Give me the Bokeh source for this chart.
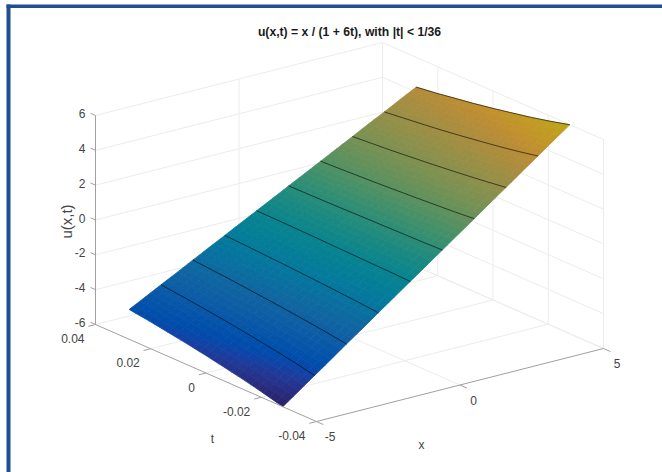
from bokeh.plotting import figure
from bokeh.models import Range1d
from bokeh.core.properties import value
from bokeh.embed import file_html
from bokeh.resources import INLINE
import numpy as np

# ---- chart values ----
title = "u(x,t) = x / (1 + 6t), with |t| < 1/36"
x_ticks = [-5, 0, 5]
t_ticks = [0.04, 0.02, 0, -0.02, -0.04]
t_tick_labels = ["0.04", "0.02", "0", "-0.02", "-0.04"]
z_ticks = [6, 4, 2, 0, -2, -4, -6]
x_grid = [-5, -4.44, -3.89, -3.33, -2.78, -2.22, -1.67, -1.11, -0.56, 0,
          0.56, 1.11, 1.67, 2.22, 2.78, 3.33, 3.89, 4.44, 5]
t_grid = [-0.0278, -0.0208, -0.0139, -0.0069, 0, 0.0069, 0.0139, 0.0208, 0.0278]
u_5 = [6.00, 5.71, 5.45, 5.22, 5.00, 4.80, 4.62, 4.44, 4.29]
u_444 = [5.33, 5.08, 4.85, 4.64, 4.44, 4.27, 4.10, 3.95, 3.81]
u_389 = [4.67, 4.44, 4.24, 4.06, 3.89, 3.73, 3.59, 3.46, 3.33]
u_333 = [4.00, 3.81, 3.64, 3.48, 3.33, 3.20, 3.08, 2.96, 2.86]
u_278 = [3.33, 3.17, 3.03, 2.90, 2.78, 2.67, 2.56, 2.47, 2.38]
u_222 = [2.67, 2.54, 2.42, 2.32, 2.22, 2.13, 2.05, 1.98, 1.90]
u_167 = [2.00, 1.90, 1.82, 1.74, 1.67, 1.60, 1.54, 1.48, 1.43]
u_111 = [1.33, 1.27, 1.21, 1.16, 1.11, 1.07, 1.03, 0.99, 0.95]
u_056 = [0.67, 0.63, 0.61, 0.58, 0.56, 0.53, 0.51, 0.49, 0.48]
u_0 = [0, 0, 0, 0, 0, 0, 0, 0, 0]
u_m056 = [-0.67, -0.63, -0.61, -0.58, -0.56, -0.53, -0.51, -0.49, -0.48]
u_m111 = [-1.33, -1.27, -1.21, -1.16, -1.11, -1.07, -1.03, -0.99, -0.95]
u_m167 = [-2.00, -1.90, -1.82, -1.74, -1.67, -1.60, -1.54, -1.48, -1.43]
u_m222 = [-2.67, -2.54, -2.42, -2.32, -2.22, -2.13, -2.05, -1.98, -1.90]
u_m278 = [-3.33, -3.17, -3.03, -2.90, -2.78, -2.67, -2.56, -2.47, -2.38]
u_m333 = [-4.00, -3.81, -3.64, -3.48, -3.33, -3.20, -3.08, -2.96, -2.86]
u_m389 = [-4.67, -4.44, -4.24, -4.06, -3.89, -3.73, -3.59, -3.46, -3.33]
u_m444 = [-5.33, -5.08, -4.85, -4.64, -4.44, -4.27, -4.10, -3.95, -3.81]
u_m5 = [-6.00, -5.71, -5.45, -5.22, -5.00, -4.80, -4.62, -4.44, -4.29]
u_rows = [u_m5, u_m444, u_m389, u_m333, u_m278, u_m222, u_m167, u_m111, u_m056, u_0,
          u_056, u_111, u_167, u_222, u_278, u_333, u_389, u_444, u_5]

PARULA = """.2081 .1663 .5292 .2116 .1898 .5777 .2123 .2138 .6270 .2081 .2386 .6771 .1959 .2645 .7279
.1707 .2919 .7792 .1253 .3242 .8303 .0591 .3598 .8683 .0117 .3875 .8820 .0060 .4086 .8828 .0165 .4266 .8786
.0329 .4430 .8720 .0498 .4586 .8641 .0629 .4737 .8554 .0723 .4887 .8467 .0779 .5040 .8384 .0793 .5200 .8312
.0749 .5375 .8263 .0641 .5570 .8240 .0488 .5772 .8228 .0343 .5966 .8199 .0265 .6137 .8135 .0239 .6287 .8038
.0231 .6418 .7913 .0228 .6535 .7768 .0267 .6642 .7607 .0384 .6743 .7436 .0590 .6838 .7254 .0843 .6928 .7062
.1133 .7015 .6859 .1453 .7098 .6646 .1801 .7177 .6424 .2178 .7250 .6193 .2586 .7317 .5954 .3022 .7376 .5712
.3482 .7424 .5473 .3953 .7459 .5244 .4420 .7481 .5033 .4871 .7491 .4840 .5300 .7491 .4661 .5709 .7485 .4494
.6099 .7473 .4337 .6473 .7456 .4188 .6834 .7435 .4044 .7184 .7411 .3905 .7525 .7384 .3768 .7858 .7356 .3633
.8185 .7327 .3498 .8507 .7299 .3360 .8824 .7274 .3217 .9139 .7258 .3063 .9450 .7261 .2886 .9739 .7314 .2666
.9938 .7455 .2403 .9990 .7653 .2164 .9955 .7861 .1967 .9880 .8066 .1794 .9789 .8271 .1633 .9697 .8481 .1475
.9626 .8705 .1309 .9589 .8949 .1132 .9598 .9218 .0948 .9661 .9514 .0755 .9763 .9831 .0538"""
cmap = np.array(PARULA.split(), dtype=float).reshape(-1, 3)

# ---- style and view ----
TEXT = "#444444"
GRID = "#ececec"
AXIS = "#a0a0a0"
FRAME = "#1f4f8f"
FONT = value("Liberation Sans")
DARK = 0.76
TOP = 0.93
SUB = 3


def project(x, t, z):
    """Orthographic view of the box: x in [-5, 5], t in [-0.04, 0.04], z in [-6, 6]."""
    x, t, z = np.asarray(x, float), np.asarray(t, float), np.asarray(z, float)
    a, b, c = (x + 5) / 10, (t + 0.04) / 0.08, (z + 6) / 12
    return 316 + 287 * a - 221 * b, 421 - 73 * a - 97 * b - 209 * c


def colour(z):
    f = np.clip((z + 6) / 12, 0, 1) * TOP * (len(cmap) - 1)
    rgb = np.array([np.interp(f, np.arange(len(cmap)), cmap[:, i]) for i in range(3)]) * DARK
    return "#%02x%02x%02x" % tuple(int(round(v * 255)) for v in rgb)


p = figure(width=662, height=472, x_range=Range1d(0, 662), y_range=Range1d(472, 0),
           x_axis_type=None, y_axis_type=None, toolbar_location=None, output_backend="svg",
           min_border=0, outline_line_color=None, background_fill_color="white")

# frame of the picture
p.quad(left=[6, 6], right=[10, 662], top=[4, 4], bottom=[472, 7.5], color=FRAME, line_width=0)


def seg(p3a, p3b, **kw):
    xa, ya = project(*np.array(p3a, float).T)
    xb, yb = project(*np.array(p3b, float).T)
    p.segment(xa, ya, xb, yb, **kw)


# grid on the back walls and on the floor
inner_x = [-5, 0, 5]
inner_t = [0.04, 0.02, 0, -0.02, -0.04]
gkw = dict(line_color=GRID, line_width=1)
seg([(-5, 0.04, z) for z in z_ticks], [(5, 0.04, z) for z in z_ticks], **gkw)
seg([(5, 0.04, z) for z in z_ticks], [(5, -0.04, z) for z in z_ticks], **gkw)
seg([(x, 0.04, -6) for x in inner_x[1:]], [(x, 0.04, 6) for x in inner_x[1:]], **gkw)
seg([(5, t, -6) for t in inner_t[1:]], [(5, t, 6) for t in inner_t[1:]], **gkw)
seg([(x, 0.04, -6) for x in inner_x[1:]], [(x, -0.04, -6) for x in inner_x[1:]], **gkw)
seg([(-5, t, -6) for t in inner_t[1:-1]], [(5, t, -6) for t in inner_t[1:-1]], **gkw)

# surface cells, each table cell shaded in SUB x SUB parts so the colour runs smoothly
xs, ys, cs = [], [], []
w = np.linspace(0, 1, SUB + 1)
for i in range(len(x_grid) - 1):
    for j in range(len(t_grid) - 1):
        xe = x_grid[i] + w * (x_grid[i + 1] - x_grid[i])
        te = t_grid[j] + w * (t_grid[j + 1] - t_grid[j])
        Z = np.array([[(1 - a) * (1 - b) * u_rows[i][j] + a * (1 - b) * u_rows[i + 1][j]
                       + (1 - a) * b * u_rows[i][j + 1] + a * b * u_rows[i + 1][j + 1]
                       for b in w] for a in w])
        for m in range(SUB):
            for n in range(SUB):
                px, py = project([xe[m], xe[m + 1], xe[m + 1], xe[m]],
                                 [te[n], te[n], te[n + 1], te[n + 1]],
                                 [Z[m, n], Z[m + 1, n], Z[m + 1, n + 1], Z[m, n + 1]])
                xs.append(px.tolist())
                ys.append(py.tolist())
                cs.append(colour(Z[m:m + 2, n:n + 2].mean()))
p.patches(xs, ys, fill_color=cs, line_color=cs, line_width=0.8)

# black level lines across the surface, every second row of the table
lx, ly = [], []
for i in range(0, len(x_grid), 2):
    px, py = project([x_grid[i]] * len(t_grid), t_grid, u_rows[i])
    lx.append(px.tolist())
    ly.append(py.tolist())
p.multi_line(lx[1:], ly[1:], line_color="#000000", line_alpha=0.6, line_width=1)

# axes
akw = dict(line_color=AXIS, line_width=1)
seg([(-5, 0.04, -6)], [(-5, 0.04, 6)], **akw)
seg([(-5, 0.04, -6)], [(-5, -0.04, -6)], **akw)
seg([(-5, -0.04, -6)], [(5, -0.04, -6)], **akw)
seg([(-5, 0.04, z) for z in z_ticks], [(-5, 0.0418, z) for z in z_ticks], **akw)
seg([(-5, t, -6) for t in t_ticks], [(-5.25, t, -6) for t in t_ticks], **akw)
seg([(x, -0.04, -6) for x in x_ticks], [(x, -0.0425, -6) for x in x_ticks], **akw)

size = value("12px")
zx, zy = project([-5] * len(z_ticks), [0.04] * len(z_ticks), z_ticks)
p.text(zx - 10, zy - 2, text=[str(z) for z in z_ticks], text_font=FONT, text_font_size=size,
       text_color=TEXT, text_align="right", text_baseline="middle")
tx, ty = project([-5] * len(t_ticks), t_ticks, [-6] * len(t_ticks))
p.text(tx - 11, ty + 14, text=t_tick_labels, text_font=FONT, text_font_size=size,
       text_color=TEXT, text_align="right", text_baseline="middle")
xx, xy = project(x_ticks, [-0.04] * len(x_ticks), [-6] * len(x_ticks))
p.text(xx + 13.5, xy + 15, text=[str(x) for x in x_ticks], text_font=FONT, text_font_size=size,
       text_color=TEXT, text_align="center", text_baseline="middle")

p.text([421], [444], text=["x"], text_font=FONT, text_font_size=size, text_color=TEXT,
       text_align="center", text_baseline="middle")
p.text([212], [438], text=["t"], text_font=FONT, text_font_size=size, text_color=TEXT,
       text_align="center", text_baseline="middle")
p.text([66], [221], text=["u(x,t)"], angle=[np.pi / 2], text_font=FONT, text_font_size=value("15px"),
       text_color=TEXT, text_align="center", text_baseline="middle")
p.text([349], [31], text=[title], text_font=FONT, text_font_size=value("12.2px"),
       text_font_style="bold", text_color="#1a1a1a", text_align="center", text_baseline="middle")

open("out.html", "w").write(file_html(p, INLINE))
